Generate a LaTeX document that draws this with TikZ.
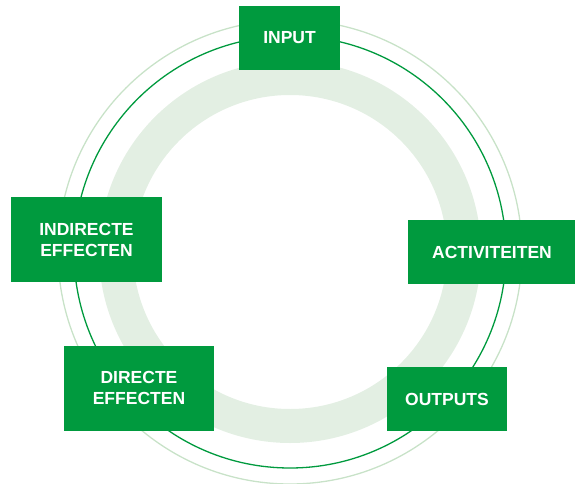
\documentclass[tikz,border=0pt]{standalone}
\usepackage{fontspec}
\setmainfont{Liberation Sans}
\usepackage{tikz}
\usetikzlibrary{positioning}
\usepackage{xcolor}
\definecolor{cyclegreen}{RGB}{0,154,62}
\definecolor{bandgreen}{RGB}{227,239,227}
\definecolor{palegreen}{RGB}{200,226,200}

\begin{document}
\begin{tikzpicture}[
    x=1pt, y=-1pt,
    stage/.style={rectangle, fill=cyclegreen, text=white, inner sep=0pt,
                  minimum height=64pt, align=center,
                  font=\bfseries\fontsize{17.5}{21}\selectfont},
    ring/.style={line width=1.3pt}
]
\useasboundingbox (0,0) rectangle (575,484);
\coordinate (centre) at (290,252);

% Rings
\draw[bandgreen, line width=34pt] (centre) circle[radius=174pt];
\draw[palegreen, ring] (centre) circle[radius=232pt];
\draw[cyclegreen, ring] (centre) circle[radius=216pt];

% Stages
\node[stage, minimum width=101pt] (input) at (289.5,38) {INPUT};
\node[stage, minimum width=168pt] (activ) at (492,252) {ACTIVITEITEN};
\node[stage, minimum width=120pt] (outputs) at (447,399) {OUTPUTS};
\node[stage, minimum width=150pt, minimum height=85pt] (direct) at (139,388) {DIRECTE\\EFFECTEN};
\node[stage, minimum width=151pt, minimum height=85pt] (indirect) at (86.5,239.5) {INDIRECTE\\EFFECTEN};
\end{tikzpicture}
\end{document}
